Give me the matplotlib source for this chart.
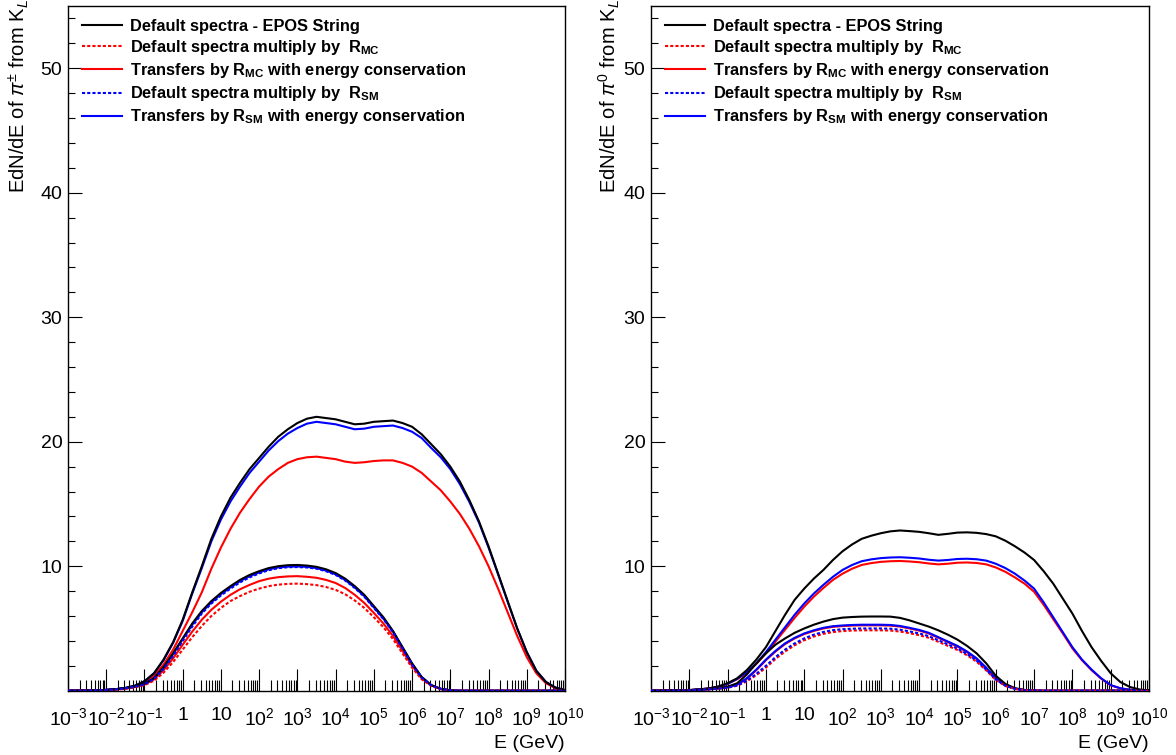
import numpy as np
import matplotlib
matplotlib.use("Agg")
import matplotlib.pyplot as plt
from matplotlib.ticker import FixedLocator, FixedFormatter, LogLocator, NullFormatter

plt.rcParams["font.family"] = "Liberation Sans"
plt.rcParams["mathtext.fontset"] = "custom"
plt.rcParams["mathtext.rm"] = "Liberation Sans"
plt.rcParams["mathtext.it"] = "Liberation Sans:italic"
plt.rcParams["mathtext.bf"] = "Liberation Sans:bold"

# log10(E/GeV) bin centres, quarter-decade steps from 1e-3 to 1e10
log_e = np.arange(-3, 10.01, 0.25)

x_tick_labels = ["$10^{-3}$", "$10^{-2}$", "$10^{-1}$", "1", "10", "$10^{2}$", "$10^{3}$",
                 "$10^{4}$", "$10^{5}$", "$10^{6}$", "$10^{7}$", "$10^{8}$", "$10^{9}$", "$10^{10}$"]

legend_labels = [
    "Default spectra - EPOS String",
    r"Default spectra multiply by  $\mathbf{R_{MC}}$",
    r"Transfers by $\mathbf{R_{MC}}$ with energy conservation",
    r"Default spectra multiply by  $\mathbf{R_{SM}}$",
    r"Transfers by $\mathbf{R_{SM}}$ with energy conservation",
]

# ---- left panel: pi+- from K_L ----
# wide group
lb_def = [0, 0, 0.01, 0.03,
          0.06, 0.12, 0.22, 0.40,
          0.75, 1.4, 2.5, 3.9,
          5.7, 7.9, 10.0, 12.2,
          14.0, 15.5, 16.7, 17.8,
          18.7, 19.6, 20.4, 21.0,
          21.5, 21.85, 22.0, 21.9,
          21.8, 21.6, 21.4, 21.45,
          21.6, 21.65, 21.7, 21.5,
          21.2, 20.6, 19.8, 19.0,
          18.0, 16.8, 15.3, 13.6,
          11.6, 9.4, 7.2, 5.0,
          3.1, 1.6, 0.7, 0.25,
          0.05]
lb_rsm_ec = [0, 0, 0.01, 0.03,
             0.06, 0.12, 0.22, 0.40,
             0.75, 1.4, 2.45, 3.85,
             5.6, 7.8, 9.85, 12.0,
             13.75, 15.2, 16.4, 17.5,
             18.4, 19.3, 20.05, 20.65,
             21.1, 21.45, 21.6, 21.5,
             21.4, 21.2, 21.0, 21.05,
             21.2, 21.25, 21.3, 21.1,
             20.8, 20.3, 19.5, 18.75,
             17.8, 16.6, 15.15, 13.5,
             11.5, 9.35, 7.15, 5.0,
             3.1, 1.6, 0.7, 0.25,
             0.05]
lb_rmc_ec = [0, 0, 0.01, 0.03,
             0.06, 0.11, 0.2, 0.36,
             0.65, 1.2, 2.1, 3.3,
             4.8, 6.3, 7.9, 9.8,
             11.5, 13.0, 14.3, 15.4,
             16.4, 17.2, 17.8, 18.3,
             18.6, 18.75, 18.8, 18.7,
             18.6, 18.4, 18.3, 18.35,
             18.45, 18.5, 18.5, 18.3,
             18.0, 17.5, 16.8, 16.1,
             15.2, 14.2, 13.0, 11.6,
             10.0, 8.2, 6.3, 4.4,
             2.7, 1.4, 0.6, 0.2,
             0.04]
# narrow group
ln_def = [0, 0, 0.01, 0.03,
          0.06, 0.12, 0.2, 0.33,
          0.55, 1.0, 1.9, 3.0,
          4.2, 5.4, 6.4, 7.2,
          7.85, 8.4, 8.9, 9.3,
          9.6, 9.85, 10.0, 10.08,
          10.1, 10.05, 9.95, 9.75,
          9.45, 9.0, 8.4, 7.7,
          6.8, 5.9, 4.8, 3.5,
          2.2, 1.1, 0.45, 0.15,
          0.03, 0, 0, 0,
          0, 0, 0, 0,
          0, 0, 0, 0,
          0]
ln_rmc = [0, 0, 0.01, 0.02,
          0.04, 0.08, 0.15, 0.27,
          0.45, 0.8, 1.45, 2.3,
          3.3, 4.3, 5.2, 6.0,
          6.65, 7.2, 7.6, 7.95,
          8.2, 8.4, 8.52, 8.58,
          8.6, 8.56, 8.48, 8.33,
          8.1, 7.75, 7.25, 6.65,
          5.9, 5.1, 4.15, 3.0,
          1.85, 0.92, 0.38, 0.12,
          0.02, 0, 0, 0,
          0, 0, 0, 0,
          0, 0, 0, 0,
          0]
ln_rmc_ec = [0, 0, 0.01, 0.03,
             0.05, 0.1, 0.18, 0.3,
             0.5, 0.9, 1.65, 2.6,
             3.7, 4.75, 5.7, 6.5,
             7.15, 7.7, 8.15, 8.5,
             8.8, 9.0, 9.12, 9.18,
             9.2, 9.15, 9.07, 8.9,
             8.65, 8.25, 7.7, 7.05,
             6.25, 5.4, 4.4, 3.2,
             2.0, 1.0, 0.42, 0.14,
             0.03, 0, 0, 0,
             0, 0, 0, 0,
             0, 0, 0, 0,
             0]
ln_rsm = [0, 0, 0.01, 0.03,
          0.06, 0.11, 0.19, 0.31,
          0.5, 0.95, 1.75, 2.8,
          4.0, 5.15, 6.2, 7.0,
          7.65, 8.2, 8.7, 9.1,
          9.42, 9.68, 9.84, 9.92,
          9.93, 9.9, 9.8, 9.6,
          9.3, 8.85, 8.25, 7.55,
          6.65, 5.75, 4.7, 3.4,
          2.1, 1.05, 0.43, 0.14,
          0.03, 0, 0, 0,
          0, 0, 0, 0,
          0, 0, 0, 0,
          0]
ln_rsm_ec = [0, 0, 0.01, 0.03,
             0.06, 0.12, 0.2, 0.33,
             0.55, 1.0, 1.85, 2.95,
             4.15, 5.3, 6.3, 7.1,
             7.75, 8.3, 8.8, 9.2,
             9.5, 9.75, 9.9, 9.97,
             9.98, 9.95, 9.85, 9.65,
             9.35, 8.9, 8.3, 7.6,
             6.7, 5.8, 4.75, 3.45,
             2.15, 1.1, 0.45, 0.15,
             0.03, 0, 0, 0,
             0, 0, 0, 0,
             0, 0, 0, 0,
             0]

# ---- right panel: pi0 from K_L ----
rb_def = [0, 0, 0.01, 0.02,
          0.05, 0.1, 0.18, 0.33,
          0.6, 1.0, 1.65, 2.5,
          3.5, 4.8, 6.1, 7.3,
          8.2, 9.0, 9.7, 10.5,
          11.2, 11.75, 12.2, 12.45,
          12.65, 12.8, 12.87, 12.82,
          12.76, 12.65, 12.52, 12.6,
          12.7, 12.72, 12.68, 12.58,
          12.4, 12.05, 11.6, 11.1,
          10.5, 9.6, 8.6, 7.4,
          6.2, 4.8, 3.5, 2.4,
          1.4, 0.7, 0.3, 0.1,
          0.02]
rb_rsm_ec = [0, 0, 0.01, 0.02,
             0.05, 0.1, 0.18, 0.32,
             0.55, 0.95, 1.5, 2.2,
             3.1, 4.1, 5.1, 6.1,
             7.0, 7.8, 8.5, 9.15,
             9.7, 10.1, 10.4, 10.55,
             10.65, 10.7, 10.72, 10.68,
             10.62, 10.52, 10.45, 10.5,
             10.58, 10.6, 10.56, 10.45,
             10.2, 9.85, 9.4, 8.85,
             8.2, 7.1, 5.9, 4.7,
             3.5, 2.5, 1.7, 1.0,
             0.45, 0.2, 0.08, 0.03,
             0]
rb_rmc_ec = [0, 0, 0.01, 0.02,
             0.05, 0.1, 0.18, 0.31,
             0.55, 0.93, 1.45, 2.15,
             3.0, 3.95, 4.9, 5.85,
             6.75, 7.55, 8.25, 8.9,
             9.4, 9.8, 10.1, 10.25,
             10.35, 10.4, 10.42, 10.38,
             10.32, 10.22, 10.15, 10.2,
             10.28, 10.3, 10.26, 10.15,
             9.9, 9.55, 9.1, 8.6,
             7.95, 6.9, 5.75, 4.6,
             3.4, 2.45, 1.65, 0.97,
             0.43, 0.19, 0.07, 0.03,
             0]
rn_def = [0, 0, 0.01, 0.02,
          0.04, 0.08, 0.13, 0.2,
          0.32, 0.6, 1.3, 2.2,
          3.0, 3.7, 4.2, 4.65,
          5.0, 5.3, 5.55, 5.75,
          5.87, 5.92, 5.95, 5.96,
          5.96, 5.95, 5.85, 5.65,
          5.4, 5.15, 4.85, 4.5,
          4.1, 3.6, 3.0, 2.2,
          1.2, 0.55, 0.2, 0.06,
          0.01, 0, 0, 0,
          0, 0, 0, 0,
          0, 0, 0, 0,
          0]
rn_rmc = [0, 0, 0.01, 0.02,
          0.04, 0.07, 0.11, 0.16,
          0.24, 0.4, 0.75, 1.25,
          1.85, 2.55, 3.15, 3.65,
          4.05, 4.35, 4.57, 4.71,
          4.79, 4.83, 4.85, 4.85,
          4.85, 4.83, 4.75, 4.62,
          4.46, 4.25, 3.93, 3.6,
          3.27, 2.85, 2.33, 1.63,
          0.86, 0.38, 0.14, 0.04,
          0.01, 0, 0, 0,
          0, 0, 0, 0,
          0, 0, 0, 0,
          0]
rn_rmc_ec = [0, 0, 0.01, 0.02,
             0.04, 0.08, 0.12, 0.18,
             0.27, 0.48, 0.95, 1.65,
             2.45, 3.15, 3.75, 4.2,
             4.55, 4.8, 5.0, 5.13,
             5.19, 5.23, 5.25, 5.25,
             5.25, 5.23, 5.15, 5.0,
             4.83, 4.6, 4.25, 3.9,
             3.55, 3.1, 2.55, 1.8,
             0.97, 0.44, 0.16, 0.05,
             0.01, 0, 0, 0,
             0, 0, 0, 0,
             0, 0, 0, 0,
             0]
rn_rsm = [0, 0, 0.01, 0.02,
          0.04, 0.07, 0.11, 0.17,
          0.25, 0.42, 0.8, 1.35,
          2.0, 2.7, 3.3, 3.8,
          4.2, 4.5, 4.72, 4.86,
          4.94, 4.98, 5.0, 5.0,
          5.0, 4.98, 4.9, 4.76,
          4.6, 4.38, 4.05, 3.72,
          3.38, 2.95, 2.42, 1.7,
          0.9, 0.4, 0.15, 0.04,
          0.01, 0, 0, 0,
          0, 0, 0, 0,
          0, 0, 0, 0,
          0]
rn_rsm_ec = [0, 0, 0.01, 0.02,
             0.04, 0.08, 0.12, 0.18,
             0.28, 0.5, 1.0, 1.7,
             2.5, 3.2, 3.8, 4.25,
             4.6, 4.85, 5.05, 5.18,
             5.24, 5.28, 5.3, 5.3,
             5.3, 5.28, 5.2, 5.05,
             4.88, 4.65, 4.3, 3.95,
             3.6, 3.15, 2.6, 1.85,
             1.0, 0.45, 0.17, 0.05,
             0.01, 0, 0, 0,
             0, 0, 0, 0,
             0, 0, 0, 0,
             0]

energy = 10.0 ** log_e
dots = (0, (1.5, 1.0))
# (color, linestyle, zorder) in legend order
styles = [("black", "-", 4), ("red", dots, 5), ("red", "-", 2), ("blue", dots, 6), ("blue", "-", 3)]


def draw_panel(ax, wide, narrow, ylabel_text, ylabel_x):
    # wide group: default, R_MC e.c., R_SM e.c.
    for y, k in zip(wide, [0, 2, 4]):
        c, ls, z = styles[k]
        ax.plot(energy, y, color=c, linestyle=ls, lw=1.5, zorder=z)
    handles = []
    for y, (c, ls, z), lab in zip(narrow, styles, legend_labels):
        h, = ax.plot(energy, y, color=c, linestyle=ls, lw=1.5, zorder=z, label=lab)
        handles.append(h)

    ax.set_xscale("log")
    ax.set_xlim(1e-3, 1e10)
    ax.set_ylim(0, 55)
    ax.xaxis.set_major_locator(FixedLocator(10.0 ** np.arange(-3, 11)))
    ax.xaxis.set_major_formatter(FixedFormatter(x_tick_labels))
    ax.xaxis.set_minor_locator(LogLocator(base=10, subs=np.arange(2, 10), numticks=100))
    ax.xaxis.set_minor_formatter(NullFormatter())
    ax.yaxis.set_major_locator(FixedLocator([10, 20, 30, 40, 50]))
    ax.yaxis.set_minor_locator(FixedLocator([2, 4, 6, 8, 12, 14, 16, 18, 22, 24, 26, 28, 32, 34, 36, 38,
                                             42, 44, 46, 48, 52, 54]))
    ax.tick_params(axis="x", which="major", direction="in", length=16, width=0.8, pad=12, labelsize=14)
    ax.tick_params(axis="x", which="minor", direction="in", length=8, width=0.8)
    ax.tick_params(axis="y", which="major", direction="in", length=10, width=0.8, pad=4, labelsize=14)
    ax.tick_params(axis="y", which="minor", direction="in", length=5, width=0.8)
    for s in ax.spines.values():
        s.set_linewidth(1.0)

    ax.set_xlabel("E (GeV)", fontsize=14, loc="right", labelpad=4)
    fig.text(ylabel_x, 1 - 193 / 755, ylabel_text, rotation=90, fontsize=14.5, ha="center", va="bottom")

    ax.legend(handles=handles, loc="upper left", bbox_to_anchor=(0.028, 0.981), borderaxespad=0,
              borderpad=0, frameon=False, handlelength=2.45, handletextpad=0.5, labelspacing=0.25,
              prop={"weight": "bold", "size": 11.8})


fig = plt.figure(figsize=(11.76, 7.55), dpi=100)
ax_l = fig.add_axes([68 / 1176, 1 - 690.7 / 755, 497 / 1176, 684.7 / 755])
ax_r = fig.add_axes([651 / 1176, 1 - 690.7 / 755, 498 / 1176, 684.7 / 755])

draw_panel(ax_l, [lb_def, lb_rmc_ec, lb_rsm_ec], [ln_def, ln_rmc, ln_rmc_ec, ln_rsm, ln_rsm_ec],
           r"EdN/dE of $\pi^{\pm}$ from K$_{L}$", 19 / 1176)
draw_panel(ax_r, [rb_def, rb_rmc_ec, rb_rsm_ec], [rn_def, rn_rmc, rn_rmc_ec, rn_rsm, rn_rsm_ec],
           r"EdN/dE of $\pi^{0}$ from K$_{L}$", 609 / 1176)

fig.savefig("out.png", dpi=100)
